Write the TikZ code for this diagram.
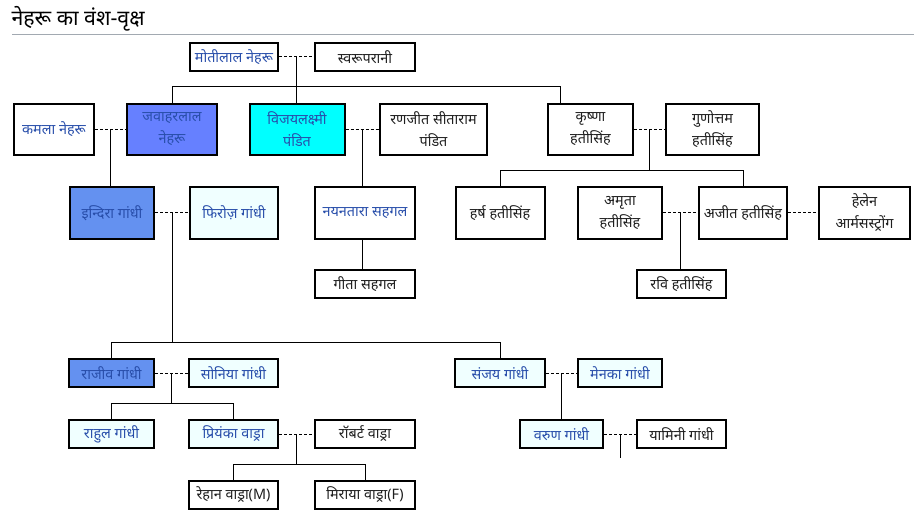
\documentclass[tikz,border=0pt]{standalone}
\usepackage{fontspec}
\setmainfont[Script=Devanagari]{Noto Sans}
\usetikzlibrary{calc}
\definecolor{linkblue}{RGB}{40,78,170}
\definecolor{ink}{RGB}{30,30,30}
\definecolor{jblue}{RGB}{102,128,255}
\definecolor{iblue}{RGB}{100,145,240}
\definecolor{vcyan}{RGB}{0,255,255}
\definecolor{azure}{RGB}{240,255,255}
\definecolor{rule}{RGB}{162,169,177}
\begin{document}
\begin{tikzpicture}[x=0.75pt, y=-0.75pt, align=center, line width=0.75pt,
    person/.style={draw, line width=1.5pt, inner sep=0pt, minimum height=21pt, text=ink,
      font=\fontsize{10.8}{16.5}\selectfont},
    tall/.style={minimum height=38.25pt},
    wd/.style={minimum width=#1*0.75pt},
    link/.style={text=linkblue},
    couple/.style={dash pattern=on 2.25pt off 1.5pt}]
        \useasboundingbox (0,0) rectangle (914,524);
        \node[anchor=west, inner sep=0pt, font=\fontsize{16}{18}\selectfont](Title) at (11,19) {नेहरू का वंश-वृक्ष};
        \draw[rule] (12,35) -- (914,35);

        \node[person, wd=88, link](Motilal) at (234,57) {मोतीलाल नेहरू};
        \node[person, wd=100](Swaruprani) at (365,57) {स्वरूपरानी};
        \node[person, tall, wd=80, link](Kamala) at (54,129.5) {कमला नेहरू};
        \node[person, tall, wd=90, link, fill=jblue](Jawaharlal) at (172,129.5) {जवाहरलाल\\नेहरू};
        \node[person, tall, wd=95, link, fill=vcyan](Vijayalakshmi) at (297,129.5) {विजयलक्ष्मी\\पंडित};
        \node[person, tall, wd=107](Ranjit) at (433.5,129.5) {रणजीत सीताराम\\पंडित};
        \node[person, tall, wd=85](Krishna) at (590.5,129.5) {कृष्णा\\हतीसिंह};
        \node[person, tall, wd=93](Gunottam) at (712.5,129.5) {गुणोत्तम\\हतीसिंह};
        \node[person, tall, wd=84, link, fill=iblue](Indira) at (112,213) {इन्दिरा गांधी};
        \node[person, tall, wd=88, link, fill=azure](Feroze) at (234,213) {फिरोज़ गांधी};
        \node[person, tall, wd=100, link](Nayantara) at (365,213) {नयनतारा सहगल};
        \node[person, tall, wd=89](Harsh) at (500,213) {हर्ष हतीसिंह};
        \node[person, tall, wd=84](Amrita) at (620,213) {अमृता\\हतीसिंह};
        \node[person, tall, wd=88](Ajit) at (743,213) {अजीत हतीसिंह};
        \node[person, tall, wd=91](Helen) at (864.5,213) {हेलेन\\आर्मसस्ट्रोंग};
        \node[person, wd=100](Gita) at (365,284) {गीता सहगल};
        \node[person, wd=89](Ravi) at (681.5,284) {रवि हतीसिंह};
        \node[person, wd=85, link, fill=iblue](Rajiv) at (111.5,373) {राजीव गांधी};
        \node[person, wd=89, link, fill=azure](Sonia) at (233.5,373) {सोनिया गांधी};
        \node[person, wd=90, link, fill=azure](Sanjay) at (500,373) {संजय गांधी};
        \node[person, wd=84, link, fill=azure](Maneka) at (620,373) {मेनका गांधी};
        \node[person, wd=85, link, fill=azure](Rahul) at (111.5,434) {राहुल गांधी};
        \node[person, wd=89, link, fill=azure](Priyanka) at (233.5,434) {प्रियंका वाड्रा};
        \node[person, wd=100](Robert) at (365,434) {रॉबर्ट वाड्रा};
        \node[person, wd=83, link, fill=azure](Varun) at (561.5,434) {वरुण गांधी};
        \node[person, wd=89](Yamini) at (681.5,434) {यामिनी गांधी};
        \node[person, wd=89](Rehan) at (233.5,495) {रेहान वाड्रा(M)};
        \node[person, wd=100](Miraya) at (365,495) {मिराया वाड्रा(F)};

        \coordinate (MS) at ($(Motilal.east)!0.5!(Swaruprani.west)$);
        \coordinate (KJ) at ($(Kamala.east)!0.5!(Jawaharlal.west)$);
        \coordinate (VR) at ($(Vijayalakshmi.east)!0.5!(Ranjit.west)$);
        \coordinate (KG) at ($(Krishna.east)!0.5!(Gunottam.west)$);
        \coordinate (KD) at ($(Krishna.north west)+(13,0)$);
        \coordinate (IF) at ($(Indira.east)!0.5!(Feroze.west)$);
        \coordinate (AA) at ($(Amrita.east)!0.5!(Ajit.west)$);
        \coordinate (RS) at ($(Rajiv.east)!0.5!(Sonia.west)$);
        \coordinate (PR) at ($(Priyanka.east)!0.5!(Robert.west)$);
        \coordinate (SM) at ($(Sanjay.east)!0.5!(Maneka.west)$);
        \coordinate (VY) at ($(Varun.east)!0.5!(Yamini.west)$);

        \draw[couple] (Motilal) -- (Swaruprani);
        \draw (MS) -- (MS |- Vijayalakshmi.north);
        \draw (Jawaharlal.north) |- (KD |- 0,87) -- (KD);

        \draw[couple] (Kamala) -- (Jawaharlal);
        \draw (KJ) -- (KJ |- Indira.north);
        \draw[couple] (Vijayalakshmi) -- (Ranjit);
        \draw (VR) -- (VR |- Nayantara.north);
        \draw (VR |- Nayantara.south) -- (VR |- Gita.north);
        \draw[couple] (Krishna) -- (Gunottam);
        \draw (KG) -- (KG |- 0,171);
        \draw (Harsh.north) |- (Ajit.north |- 0,171) -- (Ajit.north);

        \draw[couple] (Indira) -- (Feroze);
        \draw (IF) -- (IF |- 0,342);
        \draw (Rajiv.north) |- (Sanjay.north |- 0,342) -- (Sanjay.north);
        \draw[couple] (Amrita) -- (Ajit);
        \draw (AA) -- (AA |- Ravi.north);
        \draw[couple] (Ajit) -- (Helen);

        \draw[couple] (Rajiv) -- (Sonia);
        \draw (RS) -- (RS |- 0,403);
        \draw (Rahul.north) |- (Priyanka.north |- 0,403) -- (Priyanka.north);
        \draw[couple] (Priyanka) -- (Robert);
        \draw (PR) -- (PR |- 0,464);
        \draw (Rehan.north) |- (Miraya.north |- 0,464) -- (Miraya.north);
        \draw[couple] (Sanjay) -- (Maneka);
        \draw (SM) -- (SM |- Varun.north);
        \draw[couple] (Varun) -- (Yamini);
        \draw (VY) -- (VY |- 0,458);
    \end{tikzpicture}
\end{document}
